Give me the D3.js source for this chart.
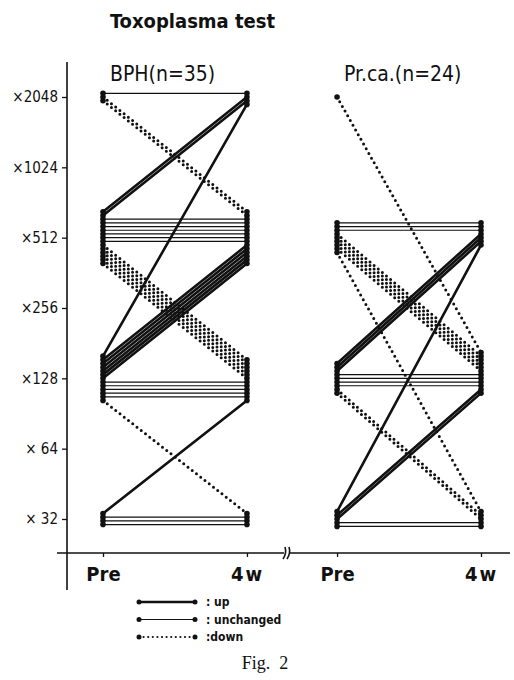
<!DOCTYPE html>
<html>
<head>
<meta charset="utf-8">
<script src="https://cdn.jsdelivr.net/npm/d3@7"></script>
<style>
  body { margin: 0; background: #fff; }
  svg text { font-family: "DejaVu Sans Condensed", "DejaVu Sans", sans-serif; fill: #111; }
</style>
</head>
<body>
<div id="chart"></div>
<script>
// titers, one entry per transition with its count
const panels = ["BPH(n=35)", "Pr.ca.(n=24)"];
const times = ["Pre", "4w"];
const titers = [32, 64, 128, 256, 512, 1024, 2048];
const tickLabels = ["× 32", "× 64", "×128", "×256", "×512", "×1024", "×2048"];

const bphFrom = [2048, 2048, 512, 128, 512, 512, 128, 128, 128, 32, 32];
const bphTo = [2048, 512, 2048, 2048, 512, 128, 512, 128, 32, 128, 32];
const bphCount = [1, 2, 2, 1, 7, 6, 6, 5, 1, 1, 3];

const prFrom = [2048, 512, 512, 512, 128, 128, 128, 32, 32, 32];
const prTo = [128, 512, 128, 32, 512, 128, 32, 512, 128, 32];
const prCount = [1, 3, 5, 1, 3, 4, 2, 1, 2, 2];

const legendKinds = ["up", "unchanged", "down"];

const width = 514, height = 680;
const gap = 3.7; // vertical spread of stacked points

const svg = d3.select("#chart").append("svg")
  .attr("width", width)
  .attr("height", height);

svg.append("rect").attr("width", width).attr("height", height).attr("fill", "#fff");

const y = d3.scaleLog().base(2).domain([32, 2048]).range([519, 97]);

const panelX = d3.scaleBand().domain(panels).range([103, 481]).paddingInner(0.385).paddingOuter(0);
const timeX = d3.scalePoint().domain(times).range([0, panelX.bandwidth()]);

// expand transitions into subjects
function expand(panel, from, to, count) {
  const out = [];
  from.forEach((f, i) => {
    for (let k = 0; k < count[i]; k++) {
      const t = to[i];
      out.push({ panel, pre: f, post: t, kind: t > f ? "up" : t < f ? "down" : "unchanged" });
    }
  });
  return out;
}

const subjects = expand(panels[0], bphFrom, bphTo, bphCount)
  .concat(expand(panels[1], prFrom, prTo, prCount));
subjects.forEach((d, i) => (d.id = i));

// stack points that share a titer so the lines stay readable
d3.group(subjects, (d) => d.panel, (d) => d.pre).forEach((byTiter) => {
  byTiter.forEach((list) => {
    const sorted = list.slice().sort((a, b) => d3.descending(a.post, b.post) || a.id - b.id);
    const n = sorted.length;
    sorted.forEach((d, i) => (d.offPre = (i - (n - 1) / 2) * gap));
  });
});

d3.group(subjects, (d) => d.panel, (d) => d.post).forEach((byTiter) => {
  byTiter.forEach((list) => {
    const sorted = list.slice().sort((a, b) => d3.descending(a.pre, b.pre) || a.id - b.id);
    const n = sorted.length;
    sorted.forEach((d, i) => (d.raw = (i - (n - 1) / 2) * gap));
    const same = sorted.filter((d) => d.kind === "unchanged");
    // keep unchanged lines flat
    const shift = same.length ? d3.mean(same, (d) => d.offPre) - d3.mean(same, (d) => d.raw) : 0;
    sorted.forEach((d) => (d.offPost = d.raw + shift));
  });
});

const styles = {
  up: { width: 2.6, dash: null },
  unchanged: { width: 1.2, dash: null },
  down: { width: 3, dash: "0,5.4" },
};

// title
svg.append("text")
  .attr("x", 110).attr("y", 28)
  .attr("font-size", 20).attr("font-weight", "bold")
  .text("Toxoplasma test");

// y axis
const yAxis = svg.append("g")
  .attr("transform", "translate(67,0)")
  .call(d3.axisLeft(y).tickValues(titers).tickFormat((d, i) => tickLabels[i]).tickSize(5).tickPadding(4));
yAxis.select(".domain").remove();
yAxis.selectAll("line").attr("stroke", "#111").attr("stroke-width", 1.3);
yAxis.selectAll("text").attr("font-size", 15).attr("font-family", "DejaVu Sans Condensed").attr("fill", "#111");
svg.append("line").attr("x1", 67).attr("x2", 67).attr("y1", 62).attr("y2", 590)
  .attr("stroke", "#111").attr("stroke-width", 1.6);

// x axis
svg.append("line").attr("x1", 57).attr("x2", 510).attr("y1", 553).attr("y2", 553)
  .attr("stroke", "#111").attr("stroke-width", 1.6);
panels.forEach((p) => {
  const g = svg.append("g")
    .attr("transform", `translate(${panelX(p)},553)`)
    .call(d3.axisBottom(timeX).tickSize(4).tickPadding(10));
  g.select(".domain").remove();
  g.selectAll("line").attr("stroke", "#111").attr("stroke-width", 1.3);
  g.selectAll("text").attr("font-size", 20).attr("font-weight", "bold")
    .attr("font-family", "DejaVu Sans Condensed").attr("fill", "#111")
    .attr("letter-spacing", (d) => (d === "4w" ? 2 : 0));

  svg.append("text")
    .attr("x", panelX(p) + 7).attr("y", 81)
    .attr("font-size", 21)
    .text(p);
});

// axis break
const bx = 287;
svg.append("rect").attr("x", bx - 3).attr("y", 549).attr("width", 5).attr("height", 8).attr("fill", "#fff");
[-3, 1].forEach((dx) => {
  svg.append("path")
    .attr("d", `M${bx + dx - 1},559 Q${bx + dx + 3},553 ${bx + dx + 1},547`)
    .attr("fill", "none").attr("stroke", "#111").attr("stroke-width", 1.6);
});

const xPos = (d, t) => panelX(d.panel) + timeX(t);

// lines: unchanged, down, up
const order = ["unchanged", "down", "up"];
const lines = svg.append("g");
order.forEach((kind) => {
  lines.selectAll(null)
    .data(subjects.filter((d) => d.kind === kind))
    .join("line")
    .attr("x1", (d) => xPos(d, "Pre"))
    .attr("y1", (d) => y(d.pre) + d.offPre)
    .attr("x2", (d) => xPos(d, "4w"))
    .attr("y2", (d) => y(d.post) + d.offPost)
    .attr("stroke", "#111")
    .attr("stroke-width", styles[kind].width)
    .attr("stroke-linecap", "round")
    .attr("stroke-dasharray", styles[kind].dash);
});

const dots = svg.append("g").attr("fill", "#111");
dots.selectAll(".pre").data(subjects).join("circle")
  .attr("cx", (d) => xPos(d, "Pre"))
  .attr("cy", (d) => y(d.pre) + d.offPre)
  .attr("r", 2.8);
dots.selectAll(".post").data(subjects).join("circle")
  .attr("cx", (d) => xPos(d, "4w"))
  .attr("cy", (d) => y(d.post) + d.offPost)
  .attr("r", 2.8);

// legend
const legY = d3.scalePoint().domain(legendKinds).range([602, 637]);
const leg = svg.append("g");
legendKinds.forEach((k) => {
  const yy = legY(k);
  leg.append("line")
    .attr("x1", 139).attr("x2", 195).attr("y1", yy).attr("y2", yy)
    .attr("stroke", "#111")
    .attr("stroke-width", k === "down" ? 2.2 : k === "up" ? 2.6 : 1.2)
    .attr("stroke-linecap", "round")
    .attr("stroke-dasharray", k === "down" ? "0,4.6" : null);
  [139, 195].forEach((cx) => leg.append("circle").attr("cx", cx).attr("cy", yy).attr("r", 2.5).attr("fill", "#111"));
  leg.append("text")
    .attr("x", 206).attr("y", yy + 4)
    .attr("font-size", 12).attr("font-weight", "bold")
    .text(":" + (k === "down" ? "" : " ") + k);
});

svg.append("text")
  .attr("x", 265).attr("y", 669)
  .attr("text-anchor", "middle")
  .attr("font-size", 18)
  .style("font-family", "'Liberation Serif', 'DejaVu Serif', serif")
  .style("white-space", "pre")
  .text("Fig.  2");
</script>
</body>
</html>
